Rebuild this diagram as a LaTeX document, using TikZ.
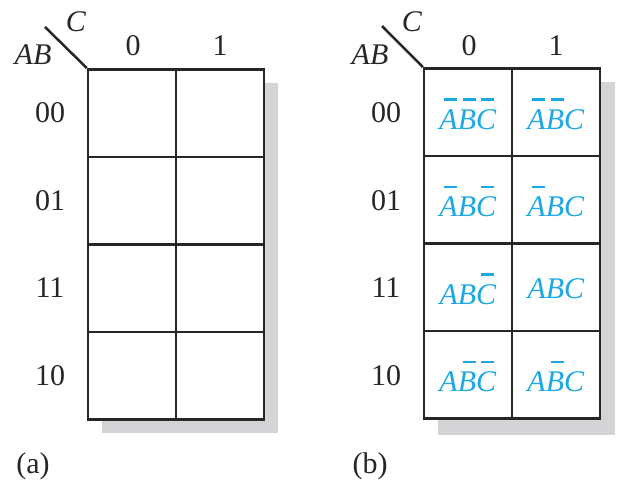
\documentclass[tikz,border=0pt]{standalone}
\usepackage{amsmath}
\usepackage{fontspec}
\setmainfont{Liberation Serif}
\usetikzlibrary{positioning}
\definecolor{mapblue}{RGB}{28,168,228}
\definecolor{shadowgray}{RGB}{212,212,214}
\definecolor{gridgray}{RGB}{38,38,38}
\newcommand{\nt}[1]{\makebox[0pt][l]{\hspace{0.16em}\raisebox{0.96em}{\rule{0.44em}{2.2pt}}}\textit{#1}}
\newcommand{\ps}[1]{\textit{#1}}

\begin{document}
\begin{tikzpicture}[x=1pt,y=-1pt,
  cell/.style={draw=gridgray, fill=white, line width=2.5pt, minimum width=88pt, minimum height=87.5pt, inner sep=0pt},
  term/.style={text=mapblue},
  shadow/.style={fill=shadowgray, draw=none}]
\tikzstyle{every node}+=[font=\fontsize{30}{34}\selectfont, text=gridgray]
\useasboundingbox (0,0) rectangle (623,495);
% map (a)
\fill [shadowgray] (102,83) rectangle (278,433);
\node [cell] (a00) at (132,113) {};
\node [cell] (a01) at (220,113) {};
\node [cell] (a10) at (132,200.5) {};
\node [cell] (a11) at (220,200.5) {};
\node [cell] (a20) at (132,288) {};
\node [cell] (a21) at (220,288) {};
\node [cell] (a30) at (132,375.5) {};
\node [cell] (a31) at (220,375.5) {};
\coordinate (ad) at (45,27);
\draw [line width=2.5pt, gridgray] (a00.north west) -- (ad);
\node (aC) at (76,22) {\ps{C}};
\node (aAB) at (33,55) {\ps{AB}};
\node (ac0) at (133,46) {0};
\node (ac1) at (220,46) {1};
\node (ar0) at (50,113) {00};
\node (ar1) at (50,200.5) {01};
\node (ar2) at (50,288) {11};
\node (ar3) at (50,375.5) {10};
\node (acap) at (33,466) {(a)};
% map (b)
\fill [shadowgray] (438,82) rectangle (615,435);
\node [cell] (b00) at (468,112) {};
\node [cell] (b01) at (556,112) {};
\node [cell] (b10) at (468,199.5) {};
\node [cell] (b11) at (556,199.5) {};
\node [cell] (b20) at (468,287) {};
\node [cell] (b21) at (556,287) {};
\node [cell] (b30) at (468,374.5) {};
\node [cell] (b31) at (556,374.5) {};
\coordinate (bd) at (382,26);
\draw [line width=2.5pt, gridgray] (b00.north west) -- (bd);
\node (bC) at (412,22) {\ps{C}};
\node (bAB) at (370,55) {\ps{AB}};
\node (bc0) at (469,46) {0};
\node (bc1) at (556,46) {1};
\node (br0) at (386,113) {00};
\node (br1) at (386,200.5) {01};
\node (br2) at (386,288) {11};
\node (br3) at (386,375.5) {10};
\node (bcap) at (370,466) {(b)};
\node [term] (t000) at ([yshift=-2pt]b00) {\nt{A}\nt{B}\nt{C}};
\node [term] (t001) at ([yshift=-2pt]b01) {\nt{A}\nt{B}\ps{C}};
\node [term] (t010) at ([yshift=-2pt]b10) {\nt{A}\ps{B}\nt{C}};
\node [term] (t011) at ([yshift=-2pt]b11) {\nt{A}\ps{BC}};
\node [term] (t110) at ([yshift=-2pt]b20) {\ps{AB}\nt{C}};
\node [term] (t111) at ([yshift=-2pt]b21) {\ps{ABC}};
\node [term] (t100) at ([yshift=-2pt]b30) {\ps{A}\nt{B}\nt{C}};
\node [term] (t101) at ([yshift=-2pt]b31) {\ps{A}\nt{B}\ps{C}};
\end{tikzpicture}
\end{document}
